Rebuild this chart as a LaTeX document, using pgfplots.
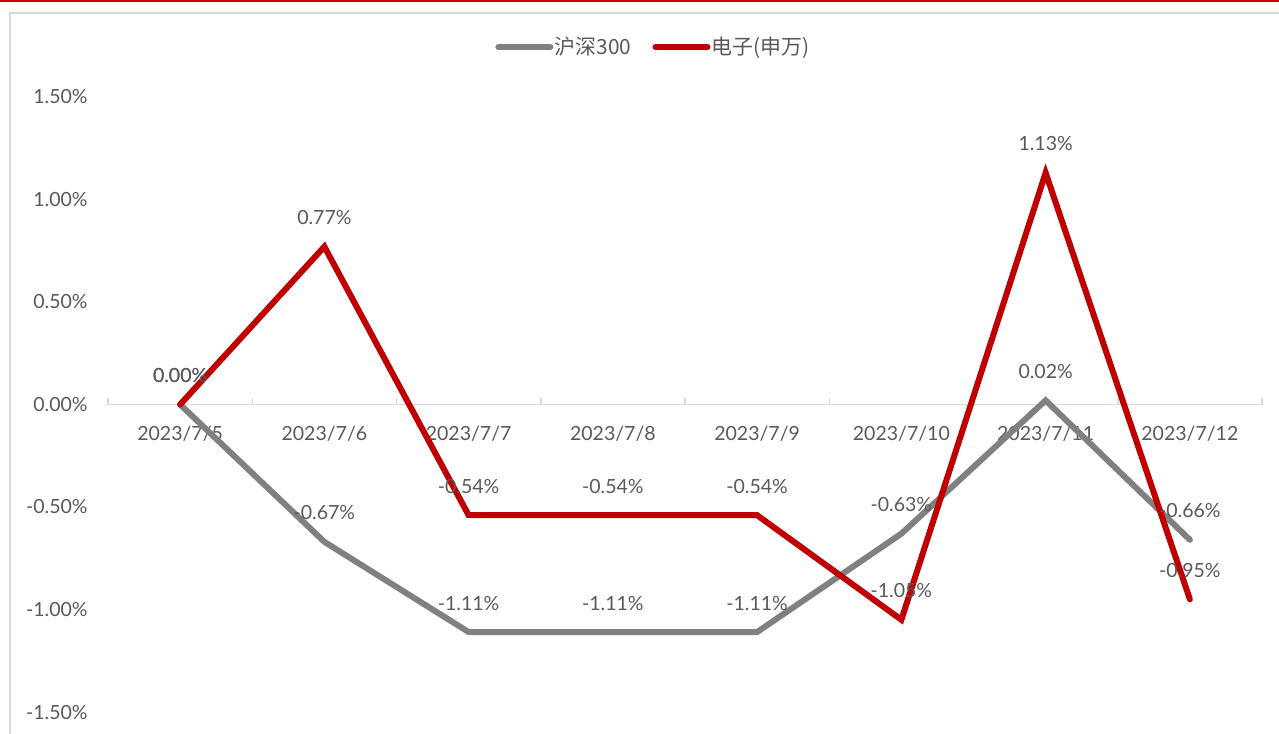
\documentclass[border=0pt]{standalone}
\usepackage{pgfplots}
\pgfplotsset{compat=1.18}
\usepackage{fontspec}
\setmainfont{Lato}
\newfontfamily\cjk{Noto Sans CJK SC}
\definecolor{hsGray}{RGB}{128,128,128}
\definecolor{elecRed}{RGB}{192,0,0}
\definecolor{axGray}{RGB}{217,217,217}
\definecolor{txtGray}{RGB}{89,89,89}
\definecolor{topRed}{RGB}{204,0,0}

\begin{document}
\begin{tikzpicture}
\useasboundingbox (0,0) rectangle (639.5bp,-367bp);
% outer frame of the chart area
\draw[topRed, line width=0.7bp] (0,-0.5bp) -- (639.5bp,-0.5bp);
\draw[axGray, line width=1bp] (4.75bp,-367bp) -- (4.75bp,-6.25bp) -- (639.5bp,-6.25bp);
\begin{axis}[
    at={(54bp,-356bp)}, anchor=south west,
    scale only axis, width=577bp, height=307.5bp,
    xmin=-0.5, xmax=7.5, ymin=-1.5, ymax=1.5,
    clip=false,
    axis x line=middle, axis y line=left,
    axis line style={-},
    x axis line style={draw=axGray, line width=0.75bp},
    y axis line style={draw=none},
    hide obscured x ticks=false, hide obscured y ticks=false,
    xtick={0,...,7},
    xticklabels={2023/7/5,2023/7/6,2023/7/7,2023/7/8,2023/7/9,2023/7/10,2023/7/11,2023/7/12},
    ytick={-1.5,-1,-0.5,0,0.5,1,1.5},
    yticklabel={\pgfmathprintnumber[fixed,fixed zerofill,precision=2]{\tick}\%},
    major tick length=0pt,
    /pgf/number format/assume math mode=true,
    tick label style={font=\fontsize{9.8}{11}\selectfont, text=txtGray, inner sep=0pt},
    xticklabel style={anchor=center, yshift=-14.5bp},
    yticklabel style={anchor=east, xshift=-10bp},
    nodes near coords={\pgfmathprintnumber[fixed,fixed zerofill,precision=2]{\pgfplotspointmeta}\%},
    nodes near coords style={anchor=center, yshift=14.5bp, inner sep=0pt,
        font=\fontsize{9.8}{11}\selectfont, text=txtGray},
    legend style={at={(0.4723,1.0813)}, anchor=center, draw=none, fill=none,
        legend columns=2, font=\cjk\fontsize{10.5}{12}\selectfont, text=txtGray,
        nodes={inner sep=0.6bp},
        /tikz/every even column/.append style={column sep=10bp}},
    legend image code/.code={\draw[#1, line cap=round] (0bp,0bp) -- (26bp,0bp);},
]
% small tick marks between categories
\pgfplotsinvokeforeach{-0.5,0.5,1.5,2.5,3.5,4.5,5.5,6.5,7.5}{
    \draw[axGray, line width=0.75bp] (axis cs:#1,0) -- ([yshift=3.5bp]axis cs:#1,0);
}
\addplot[hsGray, line width=3bp, line join=miter, line cap=round] coordinates {
    (0,0) (1,-0.67) (2,-1.11) (3,-1.11) (4,-1.11) (5,-0.63) (6,0.02) (7,-0.66)
};
\addlegendentry{沪深300}
\addplot[elecRed, line width=3bp, line join=miter, line cap=round] coordinates {
    (0,0) (1,0.77) (2,-0.54) (3,-0.54) (4,-0.54) (5,-1.05) (6,1.13) (7,-0.95)
};
\addlegendentry{电子(申万)}
\end{axis}
\end{tikzpicture}
\end{document}
